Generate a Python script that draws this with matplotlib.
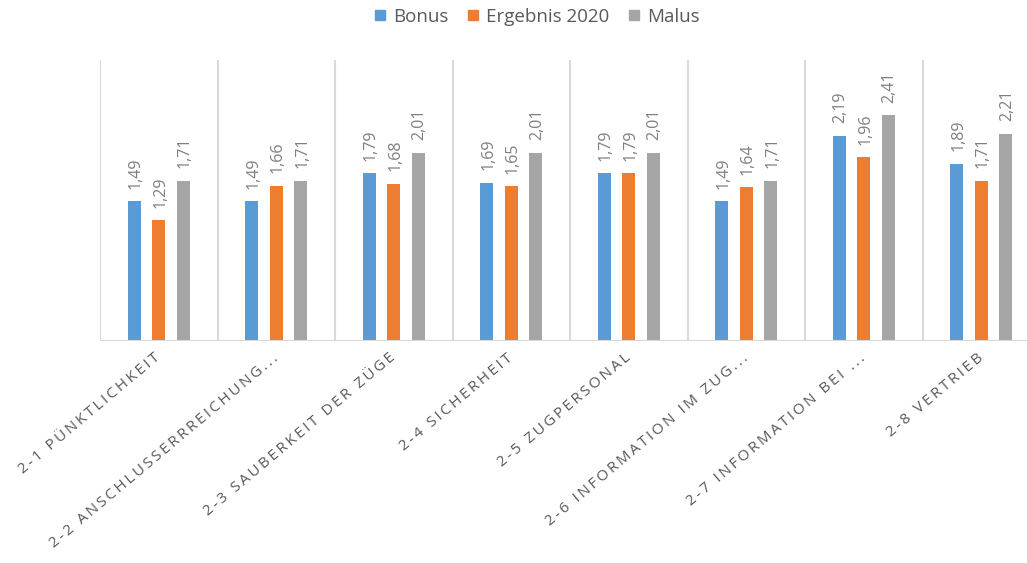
import matplotlib
matplotlib.use("Agg")
import matplotlib.pyplot as plt
from matplotlib.lines import Line2D
import numpy as np

plt.rcParams['font.family'] = ['Open Sans', 'DejaVu Sans']

categories = [
    "2-1 PÜNKTLICHKEIT",
    "2-2 ANSCHLUSSERRREICHUNG...",
    "2-3 SAUBERKEIT DER ZÜGE",
    "2-4 SICHERHEIT",
    "2-5 ZUGPERSONAL",
    "2-6 INFORMATION IM ZUG...",
    "2-7 INFORMATION BEI ...",
    "2-8 VERTRIEB",
]
series_names = ["Bonus", "Ergebnis 2020", "Malus"]
bonus = [1.49, 1.49, 1.79, 1.69, 1.79, 1.49, 2.19, 1.89]
ergebnis_2020 = [1.29, 1.66, 1.68, 1.65, 1.79, 1.64, 1.96, 1.71]
malus = [1.71, 1.71, 2.01, 2.01, 2.01, 1.71, 2.41, 2.21]

colors = ["#5b9bd5", "#ed7d31", "#a5a5a5"]
grid_color = "#d9d9d9"
text_color = "#595959"
label_color = "#7f7f7f"

W, H = 1027, 563
fig = plt.figure(figsize=(W / 100, H / 100), dpi=100)
ax = fig.add_axes([100 / W, (H - 341) / H, 940 / W, 281 / H])

x = np.arange(len(categories))
offset = 0.2085
width = 0.11
for i, (vals, col) in enumerate(zip([bonus, ergebnis_2020, malus], colors)):
    pos = x + (i - 1) * offset
    bars = ax.bar(pos, vals, width=width, color=col, zorder=3)
    for b, v in zip(bars, vals):
        ax.annotate(f"{v:.2f}".replace(".", ","),
                    (b.get_x() + b.get_width() / 2, v),
                    xytext=(1, 9), textcoords="offset points",
                    rotation=90, ha="center", va="bottom",
                    fontsize=11.5, color=label_color)

ax.set_xlim(-0.5, len(categories) - 0.5)
ax.set_ylim(0, 3.0)

# category separators
for sep in np.arange(-0.5, len(categories), 1.0):
    ax.axvline(sep, color=grid_color, lw=1.5, zorder=1)
ax.axhline(0, color=grid_color, lw=1.5, zorder=4)

for s in ax.spines.values():
    s.set_visible(False)
ax.set_yticks([])
ax.set_xticks(x)

def spaced(t):
    # letter-spaced category names
    return "\u2009".join(t)

ax.set_xticklabels([spaced(c) for c in categories], rotation=40,
                   rotation_mode="anchor", ha="right", va="center",
                   fontsize=11, color=text_color)
ax.tick_params(axis="x", length=0, pad=11)

handles = [Line2D([], [], marker="s", linestyle="none", markersize=7,
                  markerfacecolor=c, markeredgecolor=c) for c in colors]
fig.legend(handles, series_names, loc="center", bbox_to_anchor=(535 / W, 1 - 17 / H),
           ncol=3, frameon=False, fontsize=13.5, labelcolor=text_color,
           handletextpad=0.2, columnspacing=0.8, handlelength=1.0)

fig.savefig("out.png", dpi=100)
